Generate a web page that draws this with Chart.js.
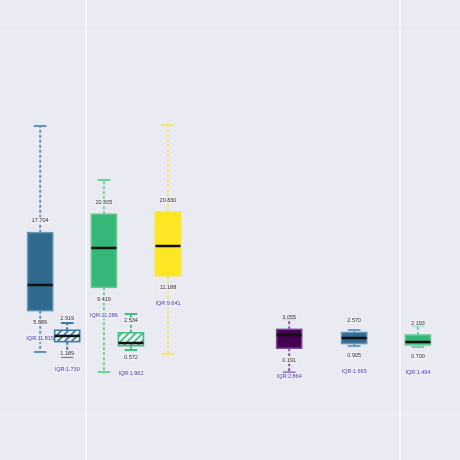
<!DOCTYPE html>
<html>
<head>
<meta charset="utf-8">
<script src="https://cdn.jsdelivr.net/npm/chart.js@4.4.1/dist/chart.umd.min.js"></script>
<style>
  html, body { margin: 0; padding: 0; background: #eaeaf2; }
  canvas { display: block; }
</style>
</head>
<body>
<canvas id="boxChart" width="460" height="460"></canvas>
<script>
// box positions on the x axis and the five numbers of each box
const positions = [0.854, 0.940, 1.057, 1.143, 1.261, 1.647, 1.854, 2.057]
const lowWhisk  = [-0.38, -1.14, -3.41, -0.08, -0.68, -3.50, 0.53, 0.38]
const q1        = [5.889, 1.189, 9.419, 0.572, 11.1884, 0.191, 0.905, 0.6996]
const medians   = [9.77, 2.05, 15.38, 0.98, 15.68, 2.20, 1.74, 1.14]
const q3        = [17.704, 2.919, 20.505, 2.534, 20.8296, 3.055, 2.570, 2.1934]
const highWhisk = [33.86, 4.00, 25.68, 5.38, 34.00, 4.60, 2.95, 3.56]
const xGrid = [1, 2]
const yGrid = [49.3, -9.9]

// styles
const fills   = ['#2f6a8d', 'hatch', '#35b779', 'hatch', '#fde725', '#440154', '#31688e', '#35b779']
const lines   = ['#5f93b8', '#3c7aa3', '#6fd09e', '#3cbf80', '#f3e66a', '#8a5a9e', '#6f9ec2', '#74d2a2']
const borders = ['#5f93b8', '#3c7aa3', '#62c993', '#3cbf80', '#fde725', '#7b4a8f', '#5f93b8', '#62c993']

function hatch(ctx, color) {
  const c = document.createElement('canvas')
  c.width = c.height = 7
  const g = c.getContext('2d')
  g.fillStyle = '#eef1f5'
  g.fillRect(0, 0, 7, 7)
  g.strokeStyle = color
  g.lineWidth = 1.7
  g.beginPath()
  g.moveTo(0, 7); g.lineTo(7, 0)
  g.moveTo(-2, 2); g.lineTo(2, -2)
  g.moveTo(5, 9); g.lineTo(9, 5)
  g.stroke()
  return ctx.createPattern(c, 'repeat')
}

function label(ctx, text, x, y, color) {
  const w = ctx.measureText(text).width
  ctx.fillStyle = 'rgba(238,238,245,0.85)'
  ctx.fillRect(x - w / 2 - 1, y - 3.5, w + 2, 7)
  ctx.fillStyle = color
  ctx.fillText(text, x, y)
}

const boxPlugin = {
  id: 'boxes',
  afterDatasetsDraw(chart) {
    const ctx = chart.ctx
    const xs = chart.scales.x, ys = chart.scales.y
    const halfW = 0.04, capW = 0.02
    ctx.save()
    positions.forEach((p, i) => {
      const xc = xs.getPixelForValue(p)
      const x0 = xs.getPixelForValue(p - halfW), x1 = xs.getPixelForValue(p + halfW)
      const c0 = xs.getPixelForValue(p - capW), c1 = xs.getPixelForValue(p + capW)
      const yLo = ys.getPixelForValue(lowWhisk[i]), yHi = ys.getPixelForValue(highWhisk[i])
      const yQ1 = ys.getPixelForValue(q1[i]), yQ3 = ys.getPixelForValue(q3[i])
      const yMed = ys.getPixelForValue(medians[i])

      // whiskers
      ctx.strokeStyle = lines[i]
      ctx.lineWidth = 2
      ctx.setLineDash([3, 2])
      ctx.beginPath()
      ctx.moveTo(xc, yQ3); ctx.lineTo(xc, yHi)
      ctx.moveTo(xc, yQ1); ctx.lineTo(xc, yLo)
      ctx.stroke()
      ctx.setLineDash([])
      ctx.beginPath()
      ctx.moveTo(c0, yHi); ctx.lineTo(c1, yHi)
      ctx.moveTo(c0, yLo); ctx.lineTo(c1, yLo)
      ctx.stroke()

      // box
      ctx.fillStyle = fills[i] === 'hatch' ? hatch(ctx, borders[i]) : fills[i]
      ctx.fillRect(x0, yQ3, x1 - x0, yQ1 - yQ3)
      ctx.strokeStyle = borders[i]
      ctx.lineWidth = 1.5
      ctx.strokeRect(x0, yQ3, x1 - x0, yQ1 - yQ3)

      // median
      ctx.strokeStyle = '#111111'
      ctx.lineWidth = 2.5
      ctx.beginPath()
      ctx.moveTo(x0, yMed); ctx.lineTo(x1, yMed)
      ctx.stroke()

      // labels
      ctx.font = '5.5px "Liberation Sans", Arial, sans-serif'
      ctx.textAlign = 'center'
      ctx.textBaseline = 'middle'
      label(ctx, q3[i].toFixed(3), xc, yQ3 - 12, '#333333')
      label(ctx, q1[i].toFixed(3), xc, yQ1 + 12, '#333333')
      label(ctx, 'IQR:' + (q3[i] - q1[i]).toFixed(3), xc, yQ1 + 28, '#4343b0')
    })
    ctx.restore()
  }
}

new Chart(document.getElementById('boxChart'), {
  type: 'scatter',
  data: {
    datasets: [{
      data: positions.map((p, i) => ({ x: p, y: medians[i] })),
      pointRadius: 0
    }]
  },
  options: {
    responsive: false,
    animation: false,
    layout: { padding: 0 },
    plugins: { legend: { display: false }, tooltip: { enabled: false } },
    scales: {
      x: {
        type: 'linear', min: 0.726, max: 2.191,
        afterBuildTicks: axis => { axis.ticks = xGrid.map(v => ({ value: v })) },
        ticks: { display: false },
        grid: { color: '#f6f6f9', lineWidth: 2, drawTicks: false },
        border: { display: false }
      },
      y: {
        type: 'linear', min: -16.74, max: 52.95,
        afterBuildTicks: axis => { axis.ticks = yGrid.map(v => ({ value: v })) },
        ticks: { display: false },
        grid: { color: 'rgba(255,255,255,0.2)', lineWidth: 1, drawTicks: false },
        border: { display: false }
      }
    }
  },
  plugins: [boxPlugin]
})
</script>
</body>
</html>
